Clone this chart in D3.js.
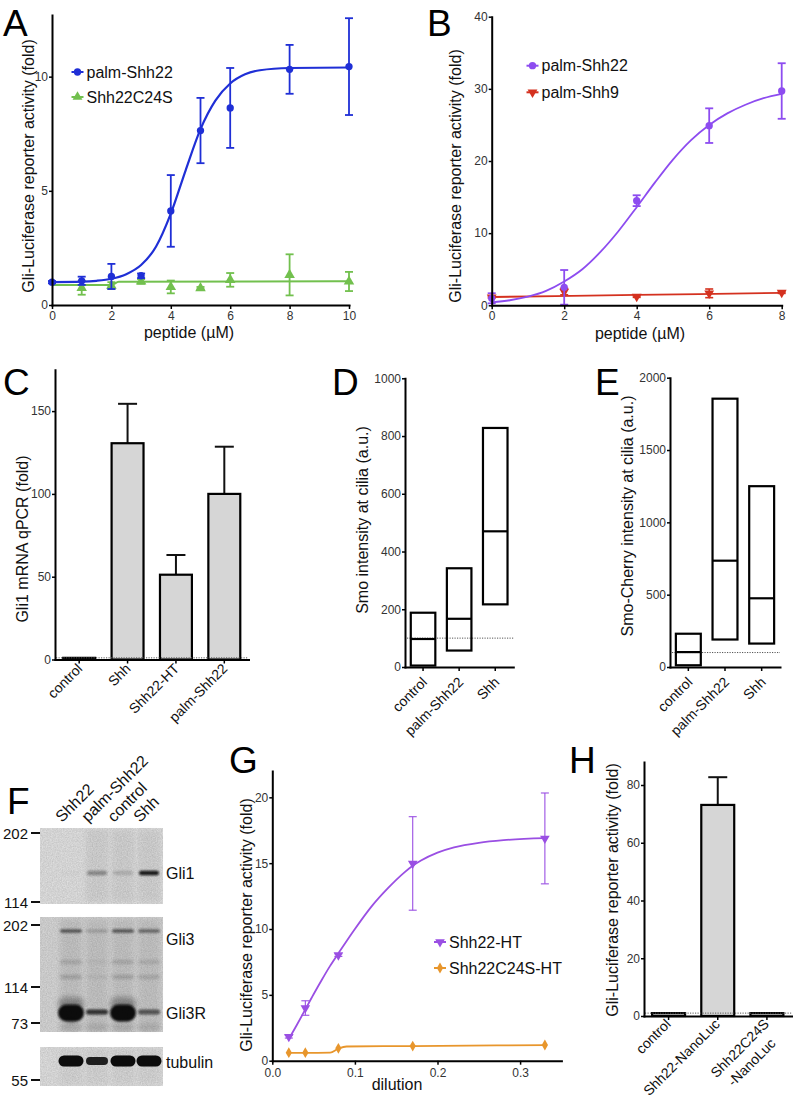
<!DOCTYPE html>
<html><head><meta charset="utf-8">
<script src="https://cdn.jsdelivr.net/npm/d3@7"></script>
<style>
body{margin:0;background:#fff}
svg{display:block}
text{font-family:"Liberation Sans",Arial,Helvetica,sans-serif}
</style>
</head><body>
<svg id="c" width="793" height="1109"></svg>
<script>
// ================= DATA =================
// Panel A
const peptideA = [0,1,2,3,4,5,6,8,10];
const palmShh22A = [1.0,1.06,1.25,1.28,4.12,7.64,8.63,10.32,10.44];
const palmShh22AErr = [0.05,0.18,0.55,0.1,1.57,1.43,1.75,1.07,2.12];
const palmShh22AFit = [[0,1.0],[1,1.02],[1.5,1.06],[2,1.15],[2.5,1.35],[3,1.75],[3.5,2.55],[4,4.0],[4.5,5.9],[5,7.7],[5.5,8.95],[6,9.7],[6.5,10.1],[7,10.28],[8,10.38],[10,10.4]];
const c24sXA = [1,2,3,4,5,6,8,10];
const c24sA = [0.75,0.85,1.03,0.79,0.74,1.1,1.32,1.03];
const c24sAErr = [0.3,0.15,0.1,0.28,0.05,0.3,0.9,0.42];
const c24sAFit = [[0,0.88],[2,0.88],[2.25,1.02],[10,1.04]];
const ticksAx = [0,2,4,6,8,10], ticksAy = [0,5,10];
// Panel B
const peptideB = [0,2,4,6,8];
const palmShh22B = [0.97,2.49,14.5,24.9,29.7];
const palmShh22BErr = [0.7,2.4,0.75,2.4,3.85];
const palmShh22BFit = [[0,0.4],[0.5,0.7],[1,1.2],[1.5,2.0],[2,3.3],[2.5,5.0],[3,7.4],[3.5,10.3],[4,13.6],[4.5,17.0],[5,20.2],[5.5,22.9],[6,25.0],[6.5,26.6],[7,27.8],[7.5,28.7],[8,29.3]];
const palmShh9B = [1.1,1.9,1.2,1.66,1.75];
const palmShh9BErr = [0.1,0.45,0.1,0.6,0.1];
const palmShh9BFit = [[0,1.15],[4,1.44],[8,1.72]];
const ticksBx = [0,2,4,6,8], ticksBy = [0,10,20,30,40];
// Panel C
const qpcrCats = ["control","Shh","Shh22-HT","palm-Shh22"];
const qpcrVals = [1,130.6,51.2,100];
const qpcrErr = [0,23.8,11.9,28.5];
const ticksCy = [0,50,100,150];
// Panel D
const smoCats = ["control","palm-Shh22","Shh"];
const smoMin = [5,57,217];
const smoMed = [97,167,470];
const smoMax = [188,342,828];
const ticksDy = [0,200,400,600,800,1000];
// Panel E
const cherryMin = [12,190,162];
const cherryMed = [103,735,475];
const cherryMax = [230,1855,1250];
const ticksEy = [0,500,1000,1500,2000];
// Panel F (western blot)
const blotLanes = ["Shh22","palm-Shh22","control","Shh"];
const gli1Int = [0.02,0.35,0.15,0.95];
const gli3Int = [0.6,0.18,0.6,0.5];
const gli3RInt = [1.0,0.8,1.0,0.6];
const tubulinInt = [1.0,0.9,1.0,1.0];
// Panel G
const dilution = [0.02,0.04,0.08,0.17,0.33];
const shh22HT = [1.82,4.0,8.02,14.98,16.88];
const shh22HTErr = [0.1,0.55,0.1,3.55,3.45];
const shh22HTFit = [[0.02,1.65],[0.03,2.75],[0.04,3.9],[0.05,5.05],[0.06,6.15],[0.07,7.2],[0.08,8.15],[0.1,10.0],[0.12,11.7],[0.14,13.1],[0.16,14.3],[0.17,14.8],[0.18,15.2],[0.2,15.8],[0.22,16.2],[0.25,16.55],[0.28,16.75],[0.33,16.9]];
const c24sHT = [0.61,0.61,0.94,1.11,1.19];
const c24sHTFit = [[0.02,0.6],[0.04,0.6],[0.07,0.62],[0.08,0.92],[0.09,1.08],[0.17,1.11],[0.33,1.19]];
const ticksGx = [0,0.1,0.2,0.3], ticksGy = [0,5,10,15,20];
// Panel H
const nanoCats = ["control","Shh22-NanoLuc","Shh22C24S-NanoLuc"];
const nanoLabels = [["control"],["Shh22-NanoLuc"],["Shh22C24S","-NanoLuc"]];
const nanoVals = [1.0,73.1,1.0];
const nanoErr = [0,9.6,0];
const ticksHy = [0,20,40,60,80];

// ================= HELPERS =================
const svg = d3.select("#c");
svg.append("rect").attr("width",793).attr("height",1109).attr("fill","#fff");
const defs = svg.append("defs");
[0.6,1,1.5,2.5,4].forEach((s,i)=>{
  defs.append("filter").attr("id","bl"+i).attr("x","-50%").attr("y","-100%").attr("width","200%").attr("height","300%")
    .append("feGaussianBlur").attr("stdDeviation",s);
});
const grain = defs.append("filter").attr("id","grain");
grain.append("feTurbulence").attr("type","fractalNoise").attr("baseFrequency","0.8").attr("numOctaves",2).attr("seed",4);
grain.append("feColorMatrix").attr("type","matrix").attr("values","0 0 0 0 0  0 0 0 0 0  0 0 0 0 0  0.18 0 0 0 0");

function styleAxis(g){
  g.select(".domain").attr("stroke","#000").attr("stroke-width",2).attr("stroke-linecap","square");
  g.selectAll(".tick line").attr("stroke","#000").attr("stroke-width",1.5);
  g.selectAll(".tick text").attr("fill","#333").style("font-size","12px");
}
function yAxis(y, x0, ticks, fmt){
  const g = svg.append("g").attr("transform",`translate(${x0},0)`)
    .call(d3.axisLeft(y).tickValues(ticks).tickSize(3).tickPadding(1).tickSizeOuter(0).tickFormat(fmt||d3.format("d")));
  styleAxis(g); return g;
}
function xAxis(x, y0, ticks, fmt, pad){
  const g = svg.append("g").attr("transform",`translate(0,${y0})`)
    .call(d3.axisBottom(x).tickValues(ticks).tickSize(4).tickPadding(pad||2).tickSizeOuter(0).tickFormat(fmt||d3.format("d")));
  styleAxis(g); return g;
}
function catAxis(x, y0, labels, dx, dy, fs){
  const g = svg.append("g").attr("transform",`translate(0,${y0})`)
    .call(d3.axisBottom(x).tickSize(4).tickSizeOuter(0).tickFormat(""));
  styleAxis(g);
  x.domain().forEach((c,i)=>{
    const cx = x(c)+x.bandwidth()/2;
    const lines = labels[i];
    const t = svg.append("text").attr("transform",`translate(${cx+dx},${y0+dy}) rotate(-45)`)
      .attr("text-anchor","end").style("font-size",fs+"px").attr("fill","#111");
    lines.forEach((l,j)=>{
      t.append("tspan").attr("x", j? -9 : 0).attr("dy", j? "1.3em":0).text(l);
    });
  });
  return g;
}
function letter(t,x,y){ svg.append("text").attr("x",x).attr("y",y).text(t).style("font-size","37px").attr("fill","#000"); }
function yLabel(t,x,y){ svg.append("text").attr("transform",`translate(${x},${y}) rotate(-90)`).attr("text-anchor","middle").attr("dominant-baseline","central").style("font-size","16px").attr("fill","#111").text(t); }
function xLabel(t,x,y){ svg.append("text").attr("x",x).attr("y",y).attr("text-anchor","middle").attr("dominant-baseline","central").style("font-size","16px").attr("fill","#111").text(t); }
const lineGen = (x,y)=>d3.line().x(d=>x(d[0])).y(d=>y(d[1])).curve(d3.curveMonotoneX);
function fitCurve(pts,x,y,color,w){ svg.append("path").datum(pts).attr("d",lineGen(x,y)).attr("fill","none").attr("stroke",color).attr("stroke-width",w); }
function errBars(xs,ys,es,x,y,color,cap,w,upOnly){
  const g = svg.append("g").attr("stroke",color).attr("stroke-width",w).attr("fill","none");
  xs.forEach((xv,i)=>{
    const e = es[i]; if(!e) return;
    const cx = x(xv), top = y(ys[i]+e), bot = upOnly? y(ys[i]) : y(Math.max(0,ys[i]-e));
    g.append("line").attr("x1",cx).attr("x2",cx).attr("y1",top).attr("y2",bot);
    g.append("line").attr("x1",cx-cap/2).attr("x2",cx+cap/2).attr("y1",top).attr("y2",top);
    if(!upOnly) g.append("line").attr("x1",cx-cap/2).attr("x2",cx+cap/2).attr("y1",bot).attr("y2",bot);
  });
}
function symPath(type,size){ return d3.symbol().type(type).size(size)(); }
function points(xs,ys,x,y,color,type,size,rot){
  svg.append("g").selectAll("path").data(xs).join("path")
    .attr("d",symPath(type,size))
    .attr("transform",(d,i)=>`translate(${x(d)},${y(ys[i])}) rotate(${rot||0})`)
    .attr("fill",color);
}
function legendItem(cx,cy,color,type,size,rot,label){
  svg.append("line").attr("x1",cx-6).attr("x2",cx+6).attr("y1",cy).attr("y2",cy).attr("stroke",color).attr("stroke-width",2);
  svg.append("path").attr("d",symPath(type,size)).attr("transform",`translate(${cx},${cy}) rotate(${rot||0})`).attr("fill",color);
  svg.append("text").attr("x",cx+9).attr("y",cy).attr("dominant-baseline","central").style("font-size","16px").attr("fill","#111").text(label);
}
function dotted(x1,x2,yv){ svg.append("line").attr("x1",x1).attr("x2",x2).attr("y1",yv).attr("y2",yv).attr("stroke","#555").attr("stroke-width",1).attr("stroke-dasharray","1.2,1.3"); }

// ================= PANEL A =================
const blue = "#1f2fd6", green = "#72c04e";
const xA = d3.scaleLinear().domain([0,10]).range([52,349]);
const yA = d3.scaleLinear().domain([0,12.7]).range([305,15]);
fitCurve(c24sAFit,xA,yA,green,2);
errBars(c24sXA,c24sA,c24sAErr,xA,yA,green,8,1.8);
points(c24sXA,c24sA,xA,yA,green,d3.symbolTriangle,48);
fitCurve(palmShh22AFit,xA,yA,blue,2.2);
errBars(peptideA,palmShh22A,palmShh22AErr,xA,yA,blue,8,1.8);
points(peptideA,palmShh22A,xA,yA,blue,d3.symbolCircle,42);
yAxis(yA,52,ticksAy); xAxis(xA,305,ticksAx);
legendItem(77.5,72,blue,d3.symbolCircle,42,0,"palm-Shh22");
legendItem(77.5,97,green,d3.symbolTriangle,42,0,"Shh22C24S");
yLabel("Gli-Luciferase reporter activity (fold)",28,166);
xLabel("peptide (\u00b5M)",189,332);
letter("A",3,36);

// ================= PANEL B =================
const purple = "#8d4cf0", red = "#d4311f";
const xB = d3.scaleLinear().domain([0,8]).range([491.7,781.7]);
const yB = d3.scaleLinear().domain([0,40]).range([305.3,16.7]);
fitCurve(palmShh9BFit,xB,yB,red,1.8);
errBars(peptideB,palmShh9B,palmShh9BErr,xB,yB,red,8,1.6);
points(peptideB,palmShh9B,xB,yB,red,d3.symbolTriangle,42,180);
fitCurve(palmShh22BFit,xB,yB,purple,1.8);
errBars(peptideB,palmShh22B,palmShh22BErr,xB,yB,purple,8,1.8);
points(peptideB,palmShh22B,xB,yB,purple,d3.symbolCircle,42);
yAxis(yB,491.7,ticksBy); xAxis(xB,305.3,ticksBx);
legendItem(532.5,65.7,purple,d3.symbolCircle,42,0,"palm-Shh22");
legendItem(532.5,92.3,red,d3.symbolTriangle,42,180,"palm-Shh9");
yLabel("Gli-Luciferase reporter activity (fold)",455,176);
xLabel("peptide (\u00b5M)",640,333);
letter("B",427,36);

// ================= PANEL C =================
const xC = d3.scaleBand().domain(qpcrCats).range([55,248.5]).paddingInner(0.34).paddingOuter(0.17);
const yC = d3.scaleLinear().domain([0,175]).range([659.5,369.7]);
errBars(qpcrCats,qpcrVals,qpcrErr,c=>xC(c)+xC.bandwidth()/2,yC,"#111",19,2,true);
svg.append("g").selectAll("rect").data(qpcrCats).join("rect")
  .attr("x",c=>xC(c)).attr("width",xC.bandwidth())
  .attr("y",(c,i)=>yC(qpcrVals[i])).attr("height",(c,i)=>yC(0)-yC(qpcrVals[i]))
  .attr("fill","#d6d6d6").attr("stroke","#000").attr("stroke-width",2.2);
dotted(56,248.5,yC(1));
yAxis(yC,55,ticksCy);
catAxis(xC,659.5,qpcrCats.map(c=>[c]),4,10,14);
yLabel("Gli1 mRNA qPCR (fold)",22,539);
letter("C",3,395);

// ================= PANEL D =================
const xD = d3.scaleBand().domain(smoCats).range([405,513.3]).paddingInner(0.32).paddingOuter(0.16);
const yD = d3.scaleLinear().domain([0,1000]).range([667,378.3]);
dotted(407,513.3,yD(100));
const gD = svg.append("g").attr("stroke","#000").attr("stroke-width",2.2).attr("fill","none");
smoCats.forEach((c,i)=>{
  gD.append("rect").attr("x",xD(c)).attr("width",xD.bandwidth()).attr("y",yD(smoMax[i])).attr("height",yD(smoMin[i])-yD(smoMax[i]));
  gD.append("line").attr("x1",xD(c)).attr("x2",xD(c)+xD.bandwidth()).attr("y1",yD(smoMed[i])).attr("y2",yD(smoMed[i]));
});
yAxis(yD,405,ticksDy);
catAxis(xD,667,smoCats.map(c=>[c]),5,16,14);
yLabel("Smo intensity at cilia (a.u.)",362,520);
letter("D",332,395);

// ================= PANEL E =================
const xE = d3.scaleBand().domain(smoCats).range([670,780]).paddingInner(0.32).paddingOuter(0.16);
const yE = d3.scaleLinear().domain([0,2000]).range([667,377.7]);
dotted(672,780,yE(100));
const gE = svg.append("g").attr("stroke","#000").attr("stroke-width",2.2).attr("fill","none");
smoCats.forEach((c,i)=>{
  gE.append("rect").attr("x",xE(c)).attr("width",xE.bandwidth()).attr("y",yE(cherryMax[i])).attr("height",yE(cherryMin[i])-yE(cherryMax[i]));
  gE.append("line").attr("x1",xE(c)).attr("x2",xE(c)+xE.bandwidth()).attr("y1",yE(cherryMed[i])).attr("y2",yE(cherryMed[i]));
});
yAxis(yE,670,ticksEy);
catAxis(xE,667,smoCats.map(c=>[c]),5,16,14);
yLabel("Smo-Cherry intensity at cilia (a.u.)",627,516);
letter("E",595,395);

// ================= PANEL F (blot) =================
const lx = d3.scaleBand().domain(blotLanes).range([58,162]);
const lc = l=>lx(l)+lx.bandwidth()/2;
const blots = [{y0:828,y1:904,bg:"#e7e7e7",lane:0.05},{y0:917,y1:1032,bg:"#dcdcdc",lane:0.07},{y0:1047,y1:1086,bg:"#e6e6e6",lane:0.03}];
const fg = svg.append("g");
blots.forEach(b=>{
  fg.append("rect").attr("x",40).attr("y",b.y0).attr("width",123).attr("height",b.y1-b.y0).attr("fill",b.bg);
  blotLanes.forEach((l,i)=>{
    if(b.y0===828 && i===0) return;
    fg.append("rect").attr("x",lc(l)-11).attr("y",b.y0+2).attr("width",22).attr("height",b.y1-b.y0-4)
      .attr("fill","#000").attr("opacity",b.lane).attr("filter","url(#bl3)");
  });
});
const clipB = defs.append("clipPath").attr("id","blotclip");
blots.forEach(b=>clipB.append("rect").attr("x",40).attr("y",b.y0).attr("width",123).attr("height",b.y1-b.y0));
const bg = svg.append("g").attr("clip-path","url(#blotclip)");
function band(l,cy,w,h,v,f){
  bg.append("rect").attr("x",lc(l)-w/2).attr("y",cy-h/2).attr("width",w).attr("height",h).attr("rx",h/2)
    .attr("fill","#0b0b0b").attr("opacity",v).attr("filter",`url(#${f})`);
}
blotLanes.forEach((l,i)=>{
  band(l,873,20,4.5,gli1Int[i],"bl1");
  band(l,931,22,3.5,gli3Int[i],"bl1");
  band(l,962,22,4,gli3Int[i]*0.25,"bl2");
  band(l,977,22,4,gli3Int[i]*0.3,"bl2");
  band(l,1028,22,8,0.12,"bl3");
  if(gli3RInt[i]>0.9){
    band(l,1004,26,14,0.3,"bl3");
    band(l,1013,26,17,gli3RInt[i],"bl1");
  } else {
    band(l,1012,22,5,gli3RInt[i],"bl1");
  }
  band(l,1061,i===1?22:25,i===1?8:11,tubulinInt[i],"bl0");
});
band("Shh22",1022,8,5,0.12,"bl2");
bg.selectAll(null).data(blots).join("rect").attr("x",40).attr("y",b=>b.y0).attr("width",123).attr("height",b=>b.y1-b.y0).attr("filter","url(#grain)").attr("fill","#fff");
const markers = [["202",833],["114",902],["202",925],["114",987],["73",1023],["55",1080]];
markers.forEach(([t,yv])=>{
  svg.append("text").attr("x",28).attr("y",yv).attr("text-anchor","end").attr("dominant-baseline","central").style("font-size","15px").attr("fill","#111").text(t);
  svg.append("line").attr("x1",31).attr("x2",40).attr("y1",yv).attr("y2",yv).attr("stroke","#111").attr("stroke-width",2);
});
[["Gli1",873],["Gli3",939],["Gli3R",1013],["tubulin",1062]].forEach(([t,yv])=>{
  svg.append("text").attr("x",166).attr("y",yv).attr("dominant-baseline","central").style("font-size","16px").attr("fill","#111").text(t);
});
blotLanes.forEach(l=>{
  svg.append("text").attr("transform",`translate(${lc(l)-9},${823}) rotate(-45)`).style("font-size","16px").attr("fill","#111").text(l);
});
letter("F",7,814);

// ================= PANEL G =================
const purpleG = "#9a4fe3", orange = "#e8962c";
const xG = d3.scaleLinear().domain([0,0.35]).range([272.3,561.4]);
const yG = d3.scaleLinear().domain([0,22]).range([1060.7,771]);
fitCurve(c24sHTFit,xG,yG,orange,1.8);
points(dilution,c24sHT,xG,yG,orange,d3.symbolDiamond,34);
fitCurve(shh22HTFit,xG,yG,purpleG,1.8);
errBars(dilution,shh22HT,shh22HTErr,xG,yG,purpleG,8,1.1);
points(dilution,shh22HT,xG,yG,purpleG,d3.symbolTriangle,40,180);
yAxis(yG,272.3,ticksGy); xAxis(xG,1060.7,ticksGx,d3.format(".1f"),4);
legendItem(440,942,purpleG,d3.symbolTriangle,40,180,"Shh22-HT");
legendItem(440,968,orange,d3.symbolDiamond,34,0,"Shh22C24S-HT");
yLabel("Gli-Luciferase reporter activity (fold)",246,925);
xLabel("dilution",397,1084);
letter("G",229,773);

// ================= PANEL H =================
const xH = d3.scaleBand().domain(nanoCats).range([644,791.5]).paddingInner(0.33).paddingOuter(0.165);
const yH = d3.scaleLinear().domain([0,88]).range([1016,761.9]);
errBars(nanoCats,nanoVals,nanoErr,c=>xH(c)+xH.bandwidth()/2,yH,"#111",19,2,true);
svg.append("g").selectAll("rect").data(nanoCats).join("rect")
  .attr("x",c=>xH(c)).attr("width",xH.bandwidth())
  .attr("y",(c,i)=>yH(nanoVals[i])).attr("height",(c,i)=>yH(0)-yH(nanoVals[i]))
  .attr("fill","#d6d6d6").attr("stroke","#000").attr("stroke-width",2.2);
dotted(645,791.5,yH(1));
yAxis(yH,644,ticksHy);
catAxis(xH,1016,nanoLabels,3,9,14);
yLabel("Gli-Luciferase reporter activity (fold)",612,890);
letter("H",569,773);
</script>
</body></html>
